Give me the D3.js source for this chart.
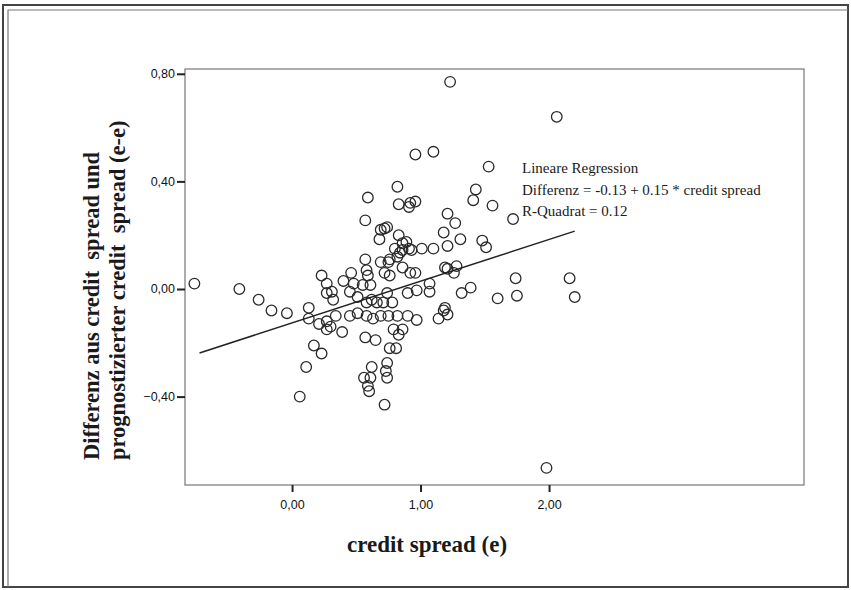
<!DOCTYPE html>
<html>
<head>
<meta charset="utf-8">
<script src="https://cdn.jsdelivr.net/npm/d3@7"></script>
<style>
  body { margin: 0; background: #fff; }
  svg { display: block; }
  .tick-label { font-family: "Liberation Sans", Arial, sans-serif; font-size: 12.5px; fill: #111; }
  .axis-title { font-family: "Liberation Serif", "Times New Roman", serif; font-weight: bold; fill: #1a1a1a; white-space: pre; }
  .legend { font-family: "Liberation Serif", "Times New Roman", serif; font-size: 15px; fill: #1a1a1a; }
</style>
</head>
<body>
<div id="chart"></div>
<script>
// credit spread (e) values
var spreadX = [
  -0.76, -0.41, -0.26, -0.16, -0.04, 0.13, 0.13, 0.21, 0.27, 0.34,
  0.27, 0.30, 0.39, 0.17, 0.23, 0.11, 0.06, 0.23, 0.27, 0.27,
  0.31, 0.32, 0.40, 0.46, 0.48, 0.45, 0.51, 0.45, 0.51, 0.57,
  0.58, 0.59, 0.55, 0.61, 0.58, 0.62, 0.66, 0.58, 0.63, 0.57,
  0.65, 0.62, 0.56, 0.61, 0.59, 0.60, 0.72, 0.74, 0.73, 0.74,
  0.76, 0.81, 0.79, 0.83, 0.86, 0.69, 0.75, 0.82, 0.86, 0.93,
  0.72, 0.76, 0.86, 0.92, 0.96, 0.74, 0.78, 0.71, 0.69, 0.75,
  0.82, 0.90, 0.90, 0.97, 0.97, 1.23, 2.06, 0.96, 1.10, 1.53,
  0.82, 0.59, 1.43, 1.41, 1.56, 1.72, 0.83, 0.92, 0.96, 0.91,
  1.21, 1.27, 1.18, 1.31, 1.48, 1.51, 1.21, 0.57, 0.69, 0.74,
  0.72, 0.68, 0.83, 0.86, 0.89, 0.91, 1.01, 1.10, 0.80, 0.84,
  0.76, 1.19, 1.21, 1.28, 1.26, 1.74, 2.16, 1.39, 1.32, 1.60,
  1.75, 2.20, 1.07, 1.07, 1.19, 1.18, 1.21, 1.14, 1.98
]
// Differenz aus credit spread und prognostiziertem credit spread (e-e)
var diffY = [
  0.02, 0.00, -0.04, -0.08, -0.09, -0.07, -0.11, -0.13, -0.12, -0.10,
  -0.15, -0.14, -0.16, -0.21, -0.24, -0.29, -0.40, 0.05, 0.02, -0.015,
  -0.01, -0.04, 0.03, 0.06, 0.02, -0.01, -0.03, -0.10, -0.09, 0.11,
  0.07, 0.05, 0.015, 0.015, -0.05, -0.04, -0.05, -0.10, -0.11, -0.18,
  -0.19, -0.29, -0.33, -0.33, -0.36, -0.38, -0.43, -0.275, -0.305, -0.33,
  -0.22, -0.22, -0.15, -0.17, -0.15, 0.10, 0.10, 0.12, 0.145, 0.145,
  0.06, 0.05, 0.08, 0.06, 0.06, -0.015, -0.05, -0.05, -0.10, -0.10,
  -0.10, -0.10, -0.015, -0.115, -0.005, 0.77, 0.64, 0.50, 0.51, 0.455,
  0.38, 0.34, 0.37, 0.33, 0.31, 0.26, 0.315, 0.32, 0.325, 0.305,
  0.28, 0.245, 0.21, 0.185, 0.18, 0.155, 0.16, 0.255, 0.22, 0.23,
  0.225, 0.185, 0.20, 0.17, 0.175, 0.15, 0.15, 0.15, 0.15, 0.135,
  0.11, 0.08, 0.075, 0.085, 0.06, 0.04, 0.04, 0.005, -0.015, -0.035,
  -0.025, -0.03, 0.02, -0.01, -0.07, -0.08, -0.095, -0.11, -0.665
]

var xTicks = [0, 1, 2]
var yTicks = [-0.4, 0, 0.4, 0.8]
var xDomain = [-0.833, 3.984]
var yDomain = [-0.7286, 0.8178]
var fit = { intercept: -0.126, slope: 0.155 }
var legendLines = [
  'Lineare Regression',
  'Differenz = -0.13 + 0.15 * credit spread',
  'R-Quadrat = 0.12'
]

var width = 851
var height = 590
var plot = { left: 185, right: 804, top: 69, bottom: 485 }

var fmt = d3.formatLocale({ decimal: ',', thousands: '.', grouping: [3], currency: ['', ' €'] }).format('.2f')

var svg = d3.select('#chart').append('svg')
  .attr('width', width)
  .attr('height', height)

// outer frame (double line on top/left like the scan)
svg.append('rect')
  .attr('x', 3).attr('y', 5).attr('width', 845).attr('height', 582)
  .attr('fill', 'none').attr('stroke', '#444').attr('stroke-width', 2)
svg.append('path')
  .attr('d', 'M8,587 L8,10 L848,10')
  .attr('fill', 'none').attr('stroke', '#777').attr('stroke-width', 1.2)

var x = d3.scaleLinear().domain(xDomain).range([plot.left, plot.right])
var y = d3.scaleLinear().domain(yDomain).range([plot.bottom, plot.top])

// plot box
svg.append('rect')
  .attr('x', plot.left).attr('y', plot.top)
  .attr('width', plot.right - plot.left).attr('height', plot.bottom - plot.top)
  .attr('fill', 'none').attr('stroke', '#777').attr('stroke-width', 1.2)

// axes
var xAxis = svg.append('g')
  .attr('transform', 'translate(0,' + plot.bottom + ')')
  .call(d3.axisBottom(x).tickValues(xTicks).tickSize(7).tickSizeOuter(0).tickPadding(8).tickFormat(fmt))
var yAxis = svg.append('g')
  .attr('transform', 'translate(' + plot.left + ',0)')
  .call(d3.axisLeft(y).tickValues(yTicks).tickSize(8).tickSizeOuter(0).tickPadding(2).tickFormat(fmt))

;[xAxis, yAxis].forEach(g => {
  g.select('.domain').remove()
  g.selectAll('.tick line').attr('stroke', '#222').attr('stroke-width', 2)
  g.selectAll('.tick text').attr('class', 'tick-label')
})

// points
var pts = d3.zip(spreadX, diffY)
svg.append('g')
  .selectAll('circle')
  .data(pts)
  .enter().append('circle')
  .attr('cx', d => x(d[0]))
  .attr('cy', d => y(d[1]))
  .attr('r', 5.3)
  .attr('fill', 'none')
  .attr('stroke', '#2a2a2a')
  .attr('stroke-width', 1.3)

// regression line over the data range
var ext = d3.extent(spreadX)
var line = d3.line().x(d => x(d)).y(d => y(fit.intercept + fit.slope * d))
svg.append('path')
  .datum([ext[0] + 0.04, ext[1]])
  .attr('d', line)
  .attr('fill', 'none')
  .attr('stroke', '#222')
  .attr('stroke-width', 1.5)

// legend text
svg.append('g').selectAll('text')
  .data(legendLines)
  .enter().append('text')
  .attr('class', 'legend')
  .attr('x', 522)
  .attr('y', (d, i) => 173 + i * 21.5)
  .text(d => d)

// axis titles
svg.append('text')
  .attr('class', 'axis-title')
  .attr('x', 427).attr('y', 552)
  .attr('text-anchor', 'middle')
  .style('font-size', '23px')
  .text('credit spread (e)')

var yTitle = ['Differenz aus credit  spread und', 'prognostizierter credit  spread (e-e)']
svg.append('g').selectAll('text')
  .data(yTitle)
  .enter().append('text')
  .attr('class', 'axis-title')
  .style('font-size', '22.5px')
  .attr('transform', (d, i) => 'translate(' + (99 + i * 26) + ',460) rotate(-90)')
  .text(d => d)
</script>
</body>
</html>
